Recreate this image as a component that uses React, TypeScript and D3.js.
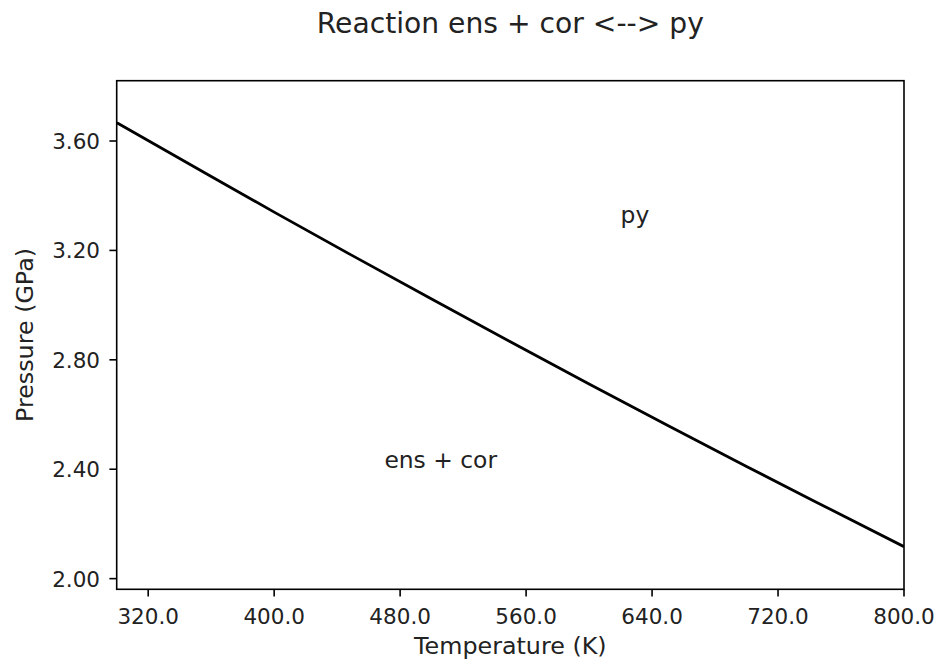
import React from "react";
import * as d3 from "d3";

const temperatures = [300, 350, 400, 450, 500, 550, 600, 650, 700, 750, 800];
const pressures = [3.667, 3.503, 3.34, 3.18, 3.022, 2.866, 2.712, 2.56, 2.41, 2.263, 2.117];
const xTicks = [320, 400, 480, 560, 640, 720, 800];
const yTicks = [2.0, 2.4, 2.8, 3.2, 3.6];
const annotations = [
  { t: 620, p: 3.3, label: "py" },
  { t: 470, p: 2.405, label: "ens + cor" },
];
const title = "Reaction ens + cor <--> py";
const xLabel = "Temperature (K)";
const yLabel = "Pressure (GPa)";

const W = 938;
const H = 660;
const m = { left: 116.7, right: 904, top: 80.7, bottom: 589.3 };
const FONT = "'DejaVu Sans', sans-serif";
const TXT = "#222";

export default function App() {
  const x = d3.scaleLinear().domain([300, 800]).range([m.left, m.right]);
  const y = d3.scaleLinear().domain([1.961, 3.8205]).range([m.bottom, m.top]);
  const line = d3
    .line<number>()
    .x((_, i) => x(temperatures[i]))
    .y((d) => y(d))
    .curve(d3.curveMonotoneX);

  return (
    <svg
      width={W}
      height={H}
      style={{ position: "absolute", left: 0, top: 0, background: "#fff" }}
      fontFamily={FONT}
    >
      <rect x={0} y={0} width={W} height={H} fill="#fff" />
      <text x={(m.left + m.right) / 2} y={33} textAnchor="middle" fontSize={28.2} fill={TXT}>
        {title}
      </text>
      <defs>
        <clipPath id="plotclip">
          <rect x={m.left} y={m.top} width={m.right - m.left} height={m.bottom - m.top} />
        </clipPath>
      </defs>
      <path
        d={line(pressures) || ""}
        fill="none"
        stroke="#000"
        strokeWidth={2.8}
        clipPath="url(#plotclip)"
      />
      {annotations.map((a) => (
        <text key={a.label} x={x(a.t)} y={y(a.p)} fontSize={23.4} fill={TXT}>
          {a.label}
        </text>
      ))}
      <rect
        x={m.left}
        y={m.top}
        width={m.right - m.left}
        height={m.bottom - m.top}
        fill="none"
        stroke="#000"
        strokeWidth={1.6}
      />
      {xTicks.map((t) => (
        <g key={t}>
          <line x1={x(t)} x2={x(t)} y1={m.bottom} y2={m.bottom + 7.3} stroke="#000" strokeWidth={1.6} />
          <text x={x(t)} y={624} textAnchor="middle" fontSize={21.5} fill={TXT}>
            {t.toFixed(1)}
          </text>
        </g>
      ))}
      {yTicks.map((p) => (
        <g key={p}>
          <line x1={m.left - 7.3} x2={m.left} y1={y(p)} y2={y(p)} stroke="#000" strokeWidth={1.6} />
          <text x={100} y={y(p)} dy="0.37em" textAnchor="end" fontSize={21.5} fill={TXT}>
            {p.toFixed(2)}
          </text>
        </g>
      ))}
      <text x={(m.left + m.right) / 2} y={654} textAnchor="middle" fontSize={23.8} fill={TXT}>
        {xLabel}
      </text>
      <text
        transform={`translate(33,${(m.top + m.bottom) / 2}) rotate(-90)`}
        textAnchor="middle"
        fontSize={23.8}
        fill={TXT}
      >
        {yLabel}
      </text>
    </svg>
  );
}
